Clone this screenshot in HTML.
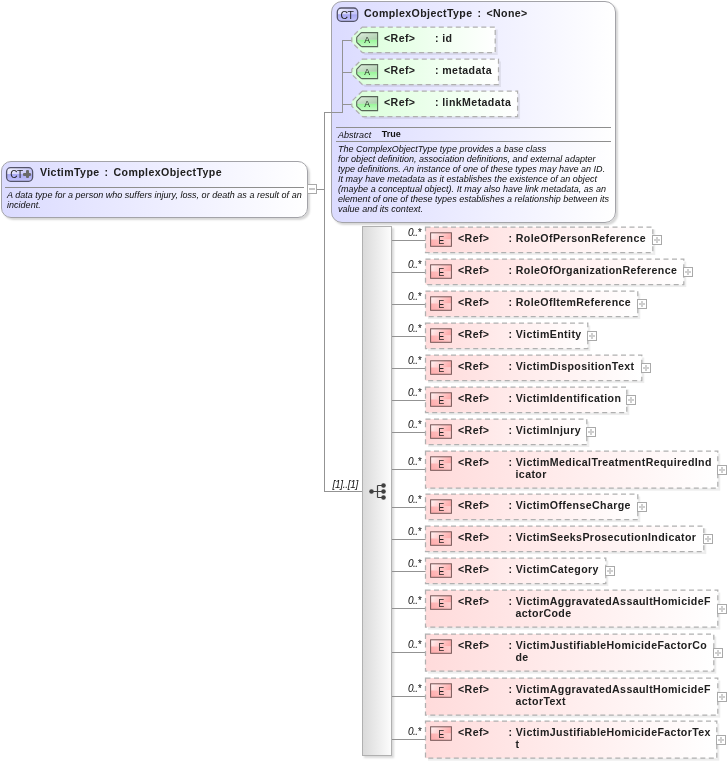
<!DOCTYPE html><html><head><meta charset="utf-8"><title>VictimType</title><style>
html,body{margin:0;padding:0;background:#fff;}
body{width:727px;height:765px;position:relative;overflow:hidden;font-family:"Liberation Sans",Arial,sans-serif;color:#1a1a1a;}
.abs{position:absolute;}
.b{font-weight:bold;font-size:10.6px;letter-spacing:0.4px;color:#202020;white-space:nowrap;line-height:12px;}
.i{font-style:italic;font-size:9px;white-space:nowrap;line-height:10px;letter-spacing:0.02px;color:#0c0c0c;}
.box{position:absolute;border:1px solid #a3a3a8;background:linear-gradient(to right,#dbdbff 0%,#ffffff 100%);box-shadow:2px 2px 2px rgba(0,0,0,0.16);box-sizing:border-box;}
.el{position:absolute;box-sizing:border-box;border:1px dashed #a8a8a8;background:linear-gradient(to right,#ffd6d6 0%,#ffe3e3 50%,#fffafa 100%);box-shadow:2px 2px 1px rgba(0,0,0,0.13);}
.eb{position:absolute;box-sizing:border-box;width:22px;height:14px;border:1px solid #7a5a5a;background:linear-gradient(to bottom,#ffe9e9 0%,#ffd0d0 45%,#f79a9a 55%,#f9b4b4 100%);font-size:11px;line-height:13px;text-align:center;color:#222;}
.plus{position:absolute;box-sizing:border-box;width:10px;height:10px;border:1px solid #a9a9a9;background:#fff;}
.plus:before{content:"";position:absolute;left:1px;top:3px;width:6px;height:2px;background:#cfcfcf;}
.plus:after{content:"";position:absolute;left:3px;top:1px;width:2px;height:6px;background:#cfcfcf;}
.card{position:absolute;font-style:italic;font-size:10px;line-height:10px;letter-spacing:-0.5px;white-space:nowrap;color:#0a0a0a;}
.ln{position:absolute;background:#939393;}
</style></head><body><div id="w" style="position:absolute;left:0;top:0;width:727px;height:765px;will-change:transform;">
<div class="ln" style="left:317px;top:189px;width:8px;height:1px;"></div>
<div class="ln" style="left:324px;top:112px;width:1px;height:380px;"></div>
<div class="ln" style="left:324px;top:491px;width:38px;height:1px;"></div>
<div class="box" style="left:1px;top:161px;width:307px;height:57px;border-radius:10px;"></div>
<svg class="abs" style="left:0;top:0;" width="727" height="765" viewBox="0 0 727 765"><defs><linearGradient id="c1v" x1="0" x2="1" y1="0" y2="0.3"><stop offset="0" stop-color="#f4f4ff"/><stop offset="1" stop-color="#c6c6fa"/></linearGradient><linearGradient id="c2v" x1="0" x2="0" y1="0" y2="1"><stop offset="0" stop-color="#a6a6f2"/><stop offset="1" stop-color="#c4c4fb"/></linearGradient><clipPath id="ccv"><rect x="6.6" y="167.7" width="26" height="13.6" rx="4" ry="4"/></clipPath></defs><g clip-path="url(#ccv)"><rect x="6.6" y="167.7" width="26" height="6.400000000000006" fill="url(#c1v)"/><rect x="6.6" y="174.1" width="26" height="7.199999999999989" fill="url(#c2v)"/></g><rect x="6.6" y="167.7" width="26" height="13.6" rx="4" ry="4" fill="none" stroke="#54546a" stroke-width="1.3"/></svg>
<div class="abs" style="left:10.3px;top:169.1px;font-size:10px;line-height:12px;letter-spacing:-0.4px;color:#222;">CT</div>
<div class="abs" style="left:23px;top:172.5px;width:8px;height:3px;background:#6a6a6a;border-radius:1px;"></div><div class="abs" style="left:25.5px;top:170px;width:3px;height:8px;background:#6a6a6a;border-radius:1px;"></div>
<div class="abs b" style="left:40px;top:166px;">VictimType<span style="margin-left:5px;margin-right:5px;">:</span>ComplexObjectType</div>
<div class="ln" style="left:5px;top:187px;width:299px;height:1px;background:#8e8e8e;"></div>
<div class="abs i" style="left:7px;top:190px;">A data type for a person who suffers injury, loss, or death as a result of an<br>incident.</div>
<div class="abs" style="left:307px;top:184px;width:10px;height:10px;box-sizing:border-box;border:1px solid #a9a9a9;background:#fff;"></div><div class="ln" style="left:309px;top:188px;width:6px;height:2px;background:#c6c6c6;"></div>
<div class="box" style="left:331px;top:1px;width:285px;height:222px;border-radius:11px;"></div>
<svg class="abs" style="left:0;top:0;" width="727" height="765" viewBox="0 0 727 765"><defs><linearGradient id="c1c" x1="0" x2="1" y1="0" y2="0.3"><stop offset="0" stop-color="#f4f4ff"/><stop offset="1" stop-color="#c6c6fa"/></linearGradient><linearGradient id="c2c" x1="0" x2="0" y1="0" y2="1"><stop offset="0" stop-color="#a6a6f2"/><stop offset="1" stop-color="#c4c4fb"/></linearGradient><clipPath id="ccc"><rect x="337.3" y="8.0" width="20.4" height="13.3" rx="4" ry="4"/></clipPath></defs><g clip-path="url(#ccc)"><rect x="337.3" y="8.0" width="20.4" height="6.25" fill="url(#c1c)"/><rect x="337.3" y="14.25" width="20.4" height="7.050000000000001" fill="url(#c2c)"/></g><rect x="337.3" y="8.0" width="20.4" height="13.3" rx="4" ry="4" fill="none" stroke="#54546a" stroke-width="1.3"/></svg>
<div class="abs" style="left:340.4px;top:9.5px;font-size:10.4px;line-height:12px;letter-spacing:-0.3px;color:#222;">CT</div>
<div class="abs b" style="left:364px;top:7px;">ComplexObjectType<span style="margin-left:5px;margin-right:5px;">:</span>&lt;None&gt;</div>
<div class="ln" style="left:342px;top:40px;width:1px;height:73px;"></div>
<div class="ln" style="left:324px;top:112px;width:19px;height:1px;"></div>
<div class="ln" style="left:342px;top:40px;width:11px;height:1px;"></div>
<div class="ln" style="left:342px;top:72px;width:11px;height:1px;"></div>
<div class="ln" style="left:342px;top:104px;width:11px;height:1px;"></div>
<svg class="abs" style="left:0;top:0;" width="727" height="765" viewBox="0 0 727 765"><defs><linearGradient id="ga" x1="0" x2="1" y1="0" y2="0"><stop offset="0" stop-color="#daffda"/><stop offset="1" stop-color="#ffffff"/></linearGradient><linearGradient id="gA1" x1="0" x2="1" y1="0" y2="1"><stop offset="0" stop-color="#e4f2e4"/><stop offset="0.5" stop-color="#c4dcc4"/><stop offset="1" stop-color="#a8cca8"/></linearGradient><linearGradient id="gA2" x1="0" x2="0" y1="0" y2="1"><stop offset="0" stop-color="#98f698"/><stop offset="1" stop-color="#c6fbc6"/></linearGradient></defs>
<path d="M364.8 29.5 L497.7 29.5 L497.7 55.0 L364.8 55.0 L354.3 44.75 L354.3 39.75 Z" fill="#000" opacity="0.07"/>
<path d="M362.3 27 L495.2 27 L495.2 52.5 L362.3 52.5 L351.8 42.3 L351.8 37.2 Z" fill="url(#ga)" stroke="#b0b0b0" stroke-width="1.25" stroke-dasharray="5 3.5"/>
<clipPath id="ca27"><path d="M361.8 32.6 L377.6 32.6 L377.6 46.6 L361.8 46.6 Q361.2 46.6 360.7 46.0 L357.09999999999997 42.65 Q356.7 42.15 356.7 41.55 L356.7 37.95 Q356.7 37.35 357.09999999999997 36.85 L360.7 33.2 Q361.2 32.6 361.8 32.6 Z"/></clipPath>
<g clip-path="url(#ca27)"><rect x="356.7" y="32.6" width="20.900000000000034" height="7.249999999999998" fill="url(#gA1)"/><rect x="356.7" y="39.85" width="20.900000000000034" height="6.850000000000001" fill="url(#gA2)"/></g>
<path d="M361.8 32.6 L377.6 32.6 L377.6 46.6 L361.8 46.6 Q361.2 46.6 360.7 46.0 L357.09999999999997 42.65 Q356.7 42.15 356.7 41.55 L356.7 37.95 Q356.7 37.35 357.09999999999997 36.85 L360.7 33.2 Q361.2 32.6 361.8 32.6 Z" fill="none" stroke="#566456" stroke-width="1.1"/>
<path d="M364.8 61.5 L501.0 61.5 L501.0 87.0 L364.8 87.0 L354.3 76.75 L354.3 71.75 Z" fill="#000" opacity="0.07"/>
<path d="M362.3 59 L498.5 59 L498.5 84.5 L362.3 84.5 L351.8 74.3 L351.8 69.2 Z" fill="url(#ga)" stroke="#b0b0b0" stroke-width="1.25" stroke-dasharray="5 3.5"/>
<clipPath id="ca59"><path d="M361.8 64.6 L377.6 64.6 L377.6 78.6 L361.8 78.6 Q361.2 78.6 360.7 78.0 L357.09999999999997 74.65 Q356.7 74.15 356.7 73.55 L356.7 69.95 Q356.7 69.35 357.09999999999997 68.85 L360.7 65.19999999999999 Q361.2 64.6 361.8 64.6 Z"/></clipPath>
<g clip-path="url(#ca59)"><rect x="356.7" y="64.6" width="20.900000000000034" height="7.250000000000005" fill="url(#gA1)"/><rect x="356.7" y="71.85" width="20.900000000000034" height="6.849999999999994" fill="url(#gA2)"/></g>
<path d="M361.8 64.6 L377.6 64.6 L377.6 78.6 L361.8 78.6 Q361.2 78.6 360.7 78.0 L357.09999999999997 74.65 Q356.7 74.15 356.7 73.55 L356.7 69.95 Q356.7 69.35 357.09999999999997 68.85 L360.7 65.19999999999999 Q361.2 64.6 361.8 64.6 Z" fill="none" stroke="#566456" stroke-width="1.1"/>
<path d="M364.8 93.5 L520.1 93.5 L520.1 119.0 L364.8 119.0 L354.3 108.75 L354.3 103.75 Z" fill="#000" opacity="0.07"/>
<path d="M362.3 91 L517.6 91 L517.6 116.5 L362.3 116.5 L351.8 106.3 L351.8 101.2 Z" fill="url(#ga)" stroke="#b0b0b0" stroke-width="1.25" stroke-dasharray="5 3.5"/>
<clipPath id="ca91"><path d="M361.8 96.6 L377.6 96.6 L377.6 110.6 L361.8 110.6 Q361.2 110.6 360.7 110.0 L357.09999999999997 106.65 Q356.7 106.15 356.7 105.55 L356.7 101.95 Q356.7 101.35 357.09999999999997 100.85 L360.7 97.19999999999999 Q361.2 96.6 361.8 96.6 Z"/></clipPath>
<g clip-path="url(#ca91)"><rect x="356.7" y="96.6" width="20.900000000000034" height="7.250000000000005" fill="url(#gA1)"/><rect x="356.7" y="103.85" width="20.900000000000034" height="6.849999999999994" fill="url(#gA2)"/></g>
<path d="M361.8 96.6 L377.6 96.6 L377.6 110.6 L361.8 110.6 Q361.2 110.6 360.7 110.0 L357.09999999999997 106.65 Q356.7 106.15 356.7 105.55 L356.7 101.95 Q356.7 101.35 357.09999999999997 100.85 L360.7 97.19999999999999 Q361.2 96.6 361.8 96.6 Z" fill="none" stroke="#566456" stroke-width="1.1"/>
</svg>
<div class="abs" style="left:364.3px;top:33.9px;font-size:9.6px;line-height:12px;color:#222;transform:scaleX(0.9);">A</div>
<div class="abs b" style="left:384px;top:32px;">&lt;Ref&gt;</div>
<div class="abs b" style="left:435px;top:32px;">: id</div>
<div class="abs" style="left:364.3px;top:65.9px;font-size:9.6px;line-height:12px;color:#222;transform:scaleX(0.9);">A</div>
<div class="abs b" style="left:384px;top:64px;">&lt;Ref&gt;</div>
<div class="abs b" style="left:435px;top:64px;">: metadata</div>
<div class="abs" style="left:364.3px;top:97.9px;font-size:9.6px;line-height:12px;color:#222;transform:scaleX(0.9);">A</div>
<div class="abs b" style="left:384px;top:96px;">&lt;Ref&gt;</div>
<div class="abs b" style="left:435px;top:96px;">: linkMetadata</div>
<div class="ln" style="left:336px;top:127px;width:275px;height:1px;background:#8e8e8e;"></div>
<div class="ln" style="left:336px;top:141px;width:275px;height:1px;background:#8e8e8e;"></div>
<div class="abs i" style="left:338px;top:130px;">Abstract</div>
<div class="abs" style="left:381.7px;top:128.6px;font-size:9px;font-weight:bold;line-height:10px;color:#111;">True</div>
<div class="abs i" style="left:338px;top:144px;">The ComplexObjectType type provides a base class<br>for object definition, association definitions, and external adapter<br>type definitions. An instance of one of these types may have an ID.<br>It may have metadata as it establishes the existence of an object<br>(maybe a conceptual object). It may also have link metadata, as an<br>element of one of these types establishes a relationship between its<br>value and its context.</div>
<div class="abs" style="left:362px;top:226px;width:30px;height:530px;box-sizing:border-box;border:1px solid #b0b0b0;background:linear-gradient(to right,#dadada 0%,#fcfcfc 100%);box-shadow:2px 2px 2px rgba(0,0,0,0.15);"></div>
<div class="abs card" style="left:332.5px;top:479.5px;letter-spacing:-0.3px;color:#111;">[1]..[1]</div>
<svg class="abs" style="left:368px;top:481px;" width="22" height="22" viewBox="0 0 22 22"><path d="M3.5 10.5 H9.5 M9.5 4.5 V16.5 M9.5 4.5 H15 M9.5 10.5 H15 M9.5 16.5 H15" stroke="#404040" stroke-width="1.2" fill="none"/><circle cx="3.5" cy="10.5" r="2.3" fill="#404040"/><circle cx="15.5" cy="4.5" r="2.3" fill="#404040"/><circle cx="15.5" cy="10.5" r="2.3" fill="#404040"/><circle cx="15.5" cy="16.5" r="2.3" fill="#404040"/></svg>
<div class="ln" style="left:392px;top:240px;width:34px;height:1px;"></div>
<div class="card" style="left:408px;top:228.4px;">0..*</div>
<div class="ln" style="left:392px;top:272px;width:34px;height:1px;"></div>
<div class="card" style="left:408px;top:260.4px;">0..*</div>
<div class="ln" style="left:392px;top:304px;width:34px;height:1px;"></div>
<div class="card" style="left:408px;top:292.4px;">0..*</div>
<div class="ln" style="left:392px;top:336px;width:34px;height:1px;"></div>
<div class="card" style="left:408px;top:324.4px;">0..*</div>
<div class="ln" style="left:392px;top:368px;width:34px;height:1px;"></div>
<div class="card" style="left:408px;top:356.4px;">0..*</div>
<div class="ln" style="left:392px;top:400px;width:34px;height:1px;"></div>
<div class="card" style="left:408px;top:388.4px;">0..*</div>
<div class="ln" style="left:392px;top:432px;width:34px;height:1px;"></div>
<div class="card" style="left:408px;top:420.4px;">0..*</div>
<div class="ln" style="left:392px;top:469px;width:34px;height:1px;"></div>
<div class="card" style="left:408px;top:457.4px;">0..*</div>
<div class="ln" style="left:392px;top:507px;width:34px;height:1px;"></div>
<div class="card" style="left:408px;top:495.4px;">0..*</div>
<div class="ln" style="left:392px;top:539px;width:34px;height:1px;"></div>
<div class="card" style="left:408px;top:527.4px;">0..*</div>
<div class="ln" style="left:392px;top:571px;width:34px;height:1px;"></div>
<div class="card" style="left:408px;top:559.4px;">0..*</div>
<div class="ln" style="left:392px;top:608px;width:34px;height:1px;"></div>
<div class="card" style="left:408px;top:596.4px;">0..*</div>
<div class="ln" style="left:392px;top:652px;width:34px;height:1px;"></div>
<div class="card" style="left:408px;top:640.4px;">0..*</div>
<div class="ln" style="left:392px;top:696px;width:34px;height:1px;"></div>
<div class="card" style="left:408px;top:684.4px;">0..*</div>
<div class="ln" style="left:392px;top:739px;width:34px;height:1px;"></div>
<div class="card" style="left:408px;top:727.4px;">0..*</div>
<svg class="abs" style="left:0;top:0;" width="727" height="765" viewBox="0 0 727 765"><defs><linearGradient id="ge" x1="0" x2="1" y1="0" y2="0"><stop offset="0" stop-color="#ffdbdb"/><stop offset="1" stop-color="#ffffff"/></linearGradient><linearGradient id="gE1" x1="0" x2="1" y1="0" y2="0.25"><stop offset="0" stop-color="#fff4f4"/><stop offset="0.45" stop-color="#ffd6d6"/><stop offset="1" stop-color="#ffaeae"/></linearGradient><linearGradient id="gE2" x1="0" x2="1" y1="0.25" y2="0"><stop offset="0" stop-color="#ffb0b0"/><stop offset="0.5" stop-color="#ffc0c0"/><stop offset="1" stop-color="#ffd4d4"/></linearGradient></defs>
<rect x="428" y="229.5" width="227.29999999999995" height="25.6" fill="#000" opacity="0.07"/>
<rect x="425.5" y="227" width="227.29999999999995" height="25.6" fill="url(#ge)" stroke="#b0b0b0" stroke-width="1.25" stroke-dasharray="5 3.5"/>
<rect x="430.5" y="232.8" width="21" height="6.8" fill="url(#gE1)"/><rect x="430.5" y="239.5" width="21" height="6.8" fill="url(#gE2)"/>
<rect x="430.6" y="232.8" width="20.8" height="13.5" fill="none" stroke="#745656" stroke-width="1"/>
<rect x="428" y="261.5" width="258.29999999999995" height="25.6" fill="#000" opacity="0.07"/>
<rect x="425.5" y="259" width="258.29999999999995" height="25.6" fill="url(#ge)" stroke="#b0b0b0" stroke-width="1.25" stroke-dasharray="5 3.5"/>
<rect x="430.5" y="264.8" width="21" height="6.8" fill="url(#gE1)"/><rect x="430.5" y="271.5" width="21" height="6.8" fill="url(#gE2)"/>
<rect x="430.6" y="264.8" width="20.8" height="13.5" fill="none" stroke="#745656" stroke-width="1"/>
<rect x="428" y="293.5" width="212.29999999999995" height="25.6" fill="#000" opacity="0.07"/>
<rect x="425.5" y="291" width="212.29999999999995" height="25.6" fill="url(#ge)" stroke="#b0b0b0" stroke-width="1.25" stroke-dasharray="5 3.5"/>
<rect x="430.5" y="296.8" width="21" height="6.8" fill="url(#gE1)"/><rect x="430.5" y="303.5" width="21" height="6.8" fill="url(#gE2)"/>
<rect x="430.6" y="296.8" width="20.8" height="13.5" fill="none" stroke="#745656" stroke-width="1"/>
<rect x="428" y="325.5" width="162.29999999999995" height="25.6" fill="#000" opacity="0.07"/>
<rect x="425.5" y="323" width="162.29999999999995" height="25.6" fill="url(#ge)" stroke="#b0b0b0" stroke-width="1.25" stroke-dasharray="5 3.5"/>
<rect x="430.5" y="328.8" width="21" height="6.8" fill="url(#gE1)"/><rect x="430.5" y="335.5" width="21" height="6.8" fill="url(#gE2)"/>
<rect x="430.6" y="328.8" width="20.8" height="13.5" fill="none" stroke="#745656" stroke-width="1"/>
<rect x="428" y="357.5" width="216.29999999999995" height="25.6" fill="#000" opacity="0.07"/>
<rect x="425.5" y="355" width="216.29999999999995" height="25.6" fill="url(#ge)" stroke="#b0b0b0" stroke-width="1.25" stroke-dasharray="5 3.5"/>
<rect x="430.5" y="360.8" width="21" height="6.8" fill="url(#gE1)"/><rect x="430.5" y="367.5" width="21" height="6.8" fill="url(#gE2)"/>
<rect x="430.6" y="360.8" width="20.8" height="13.5" fill="none" stroke="#745656" stroke-width="1"/>
<rect x="428" y="389.5" width="201.29999999999995" height="25.6" fill="#000" opacity="0.07"/>
<rect x="425.5" y="387" width="201.29999999999995" height="25.6" fill="url(#ge)" stroke="#b0b0b0" stroke-width="1.25" stroke-dasharray="5 3.5"/>
<rect x="430.5" y="392.8" width="21" height="6.8" fill="url(#gE1)"/><rect x="430.5" y="399.5" width="21" height="6.8" fill="url(#gE2)"/>
<rect x="430.6" y="392.8" width="20.8" height="13.5" fill="none" stroke="#745656" stroke-width="1"/>
<rect x="428" y="421.5" width="161.29999999999995" height="25.6" fill="#000" opacity="0.07"/>
<rect x="425.5" y="419" width="161.29999999999995" height="25.6" fill="url(#ge)" stroke="#b0b0b0" stroke-width="1.25" stroke-dasharray="5 3.5"/>
<rect x="430.5" y="424.8" width="21" height="6.8" fill="url(#gE1)"/><rect x="430.5" y="431.5" width="21" height="6.8" fill="url(#gE2)"/>
<rect x="430.6" y="424.8" width="20.8" height="13.5" fill="none" stroke="#745656" stroke-width="1"/>
<rect x="428" y="453.5" width="292.29999999999995" height="37.2" fill="#000" opacity="0.07"/>
<rect x="425.5" y="451" width="292.29999999999995" height="37.2" fill="url(#ge)" stroke="#b0b0b0" stroke-width="1.25" stroke-dasharray="5 3.5"/>
<rect x="430.5" y="456.8" width="21" height="6.8" fill="url(#gE1)"/><rect x="430.5" y="463.5" width="21" height="6.8" fill="url(#gE2)"/>
<rect x="430.6" y="456.8" width="20.8" height="13.5" fill="none" stroke="#745656" stroke-width="1"/>
<rect x="428" y="496.5" width="212.29999999999995" height="25.6" fill="#000" opacity="0.07"/>
<rect x="425.5" y="494" width="212.29999999999995" height="25.6" fill="url(#ge)" stroke="#b0b0b0" stroke-width="1.25" stroke-dasharray="5 3.5"/>
<rect x="430.5" y="499.8" width="21" height="6.8" fill="url(#gE1)"/><rect x="430.5" y="506.5" width="21" height="6.8" fill="url(#gE2)"/>
<rect x="430.6" y="499.8" width="20.8" height="13.5" fill="none" stroke="#745656" stroke-width="1"/>
<rect x="428" y="528.5" width="278.29999999999995" height="25.6" fill="#000" opacity="0.07"/>
<rect x="425.5" y="526" width="278.29999999999995" height="25.6" fill="url(#ge)" stroke="#b0b0b0" stroke-width="1.25" stroke-dasharray="5 3.5"/>
<rect x="430.5" y="531.8" width="21" height="6.8" fill="url(#gE1)"/><rect x="430.5" y="538.5" width="21" height="6.8" fill="url(#gE2)"/>
<rect x="430.6" y="531.8" width="20.8" height="13.5" fill="none" stroke="#745656" stroke-width="1"/>
<rect x="428" y="560.5" width="180.29999999999995" height="25.6" fill="#000" opacity="0.07"/>
<rect x="425.5" y="558" width="180.29999999999995" height="25.6" fill="url(#ge)" stroke="#b0b0b0" stroke-width="1.25" stroke-dasharray="5 3.5"/>
<rect x="430.5" y="563.8" width="21" height="6.8" fill="url(#gE1)"/><rect x="430.5" y="570.5" width="21" height="6.8" fill="url(#gE2)"/>
<rect x="430.6" y="563.8" width="20.8" height="13.5" fill="none" stroke="#745656" stroke-width="1"/>
<rect x="428" y="592.5" width="292.29999999999995" height="37.2" fill="#000" opacity="0.07"/>
<rect x="425.5" y="590" width="292.29999999999995" height="37.2" fill="url(#ge)" stroke="#b0b0b0" stroke-width="1.25" stroke-dasharray="5 3.5"/>
<rect x="430.5" y="595.8" width="21" height="6.8" fill="url(#gE1)"/><rect x="430.5" y="602.5" width="21" height="6.8" fill="url(#gE2)"/>
<rect x="430.6" y="595.8" width="20.8" height="13.5" fill="none" stroke="#745656" stroke-width="1"/>
<rect x="428" y="636.5" width="288.29999999999995" height="37.2" fill="#000" opacity="0.07"/>
<rect x="425.5" y="634" width="288.29999999999995" height="37.2" fill="url(#ge)" stroke="#b0b0b0" stroke-width="1.25" stroke-dasharray="5 3.5"/>
<rect x="430.5" y="639.8" width="21" height="6.8" fill="url(#gE1)"/><rect x="430.5" y="646.5" width="21" height="6.8" fill="url(#gE2)"/>
<rect x="430.6" y="639.8" width="20.8" height="13.5" fill="none" stroke="#745656" stroke-width="1"/>
<rect x="428" y="680.5" width="292.29999999999995" height="37.2" fill="#000" opacity="0.07"/>
<rect x="425.5" y="678" width="292.29999999999995" height="37.2" fill="url(#ge)" stroke="#b0b0b0" stroke-width="1.25" stroke-dasharray="5 3.5"/>
<rect x="430.5" y="683.8" width="21" height="6.8" fill="url(#gE1)"/><rect x="430.5" y="690.5" width="21" height="6.8" fill="url(#gE2)"/>
<rect x="430.6" y="683.8" width="20.8" height="13.5" fill="none" stroke="#745656" stroke-width="1"/>
<rect x="428" y="723.5" width="291.29999999999995" height="37.2" fill="#000" opacity="0.07"/>
<rect x="425.5" y="721" width="291.29999999999995" height="37.2" fill="url(#ge)" stroke="#b0b0b0" stroke-width="1.25" stroke-dasharray="5 3.5"/>
<rect x="430.5" y="726.8" width="21" height="6.8" fill="url(#gE1)"/><rect x="430.5" y="733.5" width="21" height="6.8" fill="url(#gE2)"/>
<rect x="430.6" y="726.8" width="20.8" height="13.5" fill="none" stroke="#745656" stroke-width="1"/>
</svg>
<div class="abs" style="left:437.9px;top:233.7px;font-size:10px;line-height:13px;color:#222;transform:scaleX(0.86);">E</div>
<div class="abs b" style="left:458px;top:232px;">&lt;Ref&gt;</div>
<div class="abs b" style="left:508.5px;top:232px;">: RoleOfPersonReference</div>
<div class="plus" style="left:652px;top:235px;"></div>
<div class="abs" style="left:437.9px;top:265.7px;font-size:10px;line-height:13px;color:#222;transform:scaleX(0.86);">E</div>
<div class="abs b" style="left:458px;top:264px;">&lt;Ref&gt;</div>
<div class="abs b" style="left:508.5px;top:264px;">: RoleOfOrganizationReference</div>
<div class="plus" style="left:683px;top:267px;"></div>
<div class="abs" style="left:437.9px;top:297.7px;font-size:10px;line-height:13px;color:#222;transform:scaleX(0.86);">E</div>
<div class="abs b" style="left:458px;top:296px;">&lt;Ref&gt;</div>
<div class="abs b" style="left:508.5px;top:296px;">: RoleOfItemReference</div>
<div class="plus" style="left:637px;top:299px;"></div>
<div class="abs" style="left:437.9px;top:329.7px;font-size:10px;line-height:13px;color:#222;transform:scaleX(0.86);">E</div>
<div class="abs b" style="left:458px;top:328px;">&lt;Ref&gt;</div>
<div class="abs b" style="left:508.5px;top:328px;">: VictimEntity</div>
<div class="plus" style="left:587px;top:331px;"></div>
<div class="abs" style="left:437.9px;top:361.7px;font-size:10px;line-height:13px;color:#222;transform:scaleX(0.86);">E</div>
<div class="abs b" style="left:458px;top:360px;">&lt;Ref&gt;</div>
<div class="abs b" style="left:508.5px;top:360px;">: VictimDispositionText</div>
<div class="plus" style="left:641px;top:363px;"></div>
<div class="abs" style="left:437.9px;top:393.7px;font-size:10px;line-height:13px;color:#222;transform:scaleX(0.86);">E</div>
<div class="abs b" style="left:458px;top:392px;">&lt;Ref&gt;</div>
<div class="abs b" style="left:508.5px;top:392px;">: VictimIdentification</div>
<div class="plus" style="left:626px;top:395px;"></div>
<div class="abs" style="left:437.9px;top:425.7px;font-size:10px;line-height:13px;color:#222;transform:scaleX(0.86);">E</div>
<div class="abs b" style="left:458px;top:424px;">&lt;Ref&gt;</div>
<div class="abs b" style="left:508.5px;top:424px;">: VictimInjury</div>
<div class="plus" style="left:586px;top:427px;"></div>
<div class="abs" style="left:437.9px;top:457.7px;font-size:10px;line-height:13px;color:#222;transform:scaleX(0.86);">E</div>
<div class="abs b" style="left:458px;top:456px;">&lt;Ref&gt;</div>
<div class="abs b" style="left:508.5px;top:456px;">: VictimMedicalTreatmentRequiredInd<br><span style="margin-left:7px">icator</span></div>
<div class="plus" style="left:717px;top:465px;"></div>
<div class="abs" style="left:437.9px;top:500.7px;font-size:10px;line-height:13px;color:#222;transform:scaleX(0.86);">E</div>
<div class="abs b" style="left:458px;top:499px;">&lt;Ref&gt;</div>
<div class="abs b" style="left:508.5px;top:499px;">: VictimOffenseCharge</div>
<div class="plus" style="left:637px;top:502px;"></div>
<div class="abs" style="left:437.9px;top:532.7px;font-size:10px;line-height:13px;color:#222;transform:scaleX(0.86);">E</div>
<div class="abs b" style="left:458px;top:531px;">&lt;Ref&gt;</div>
<div class="abs b" style="left:508.5px;top:531px;">: VictimSeeksProsecutionIndicator</div>
<div class="plus" style="left:703px;top:534px;"></div>
<div class="abs" style="left:437.9px;top:564.7px;font-size:10px;line-height:13px;color:#222;transform:scaleX(0.86);">E</div>
<div class="abs b" style="left:458px;top:563px;">&lt;Ref&gt;</div>
<div class="abs b" style="left:508.5px;top:563px;">: VictimCategory</div>
<div class="plus" style="left:605px;top:566px;"></div>
<div class="abs" style="left:437.9px;top:596.7px;font-size:10px;line-height:13px;color:#222;transform:scaleX(0.86);">E</div>
<div class="abs b" style="left:458px;top:595px;">&lt;Ref&gt;</div>
<div class="abs b" style="left:508.5px;top:595px;">: VictimAggravatedAssaultHomicideF<br><span style="margin-left:7px">actorCode</span></div>
<div class="plus" style="left:717px;top:604px;"></div>
<div class="abs" style="left:437.9px;top:640.7px;font-size:10px;line-height:13px;color:#222;transform:scaleX(0.86);">E</div>
<div class="abs b" style="left:458px;top:639px;">&lt;Ref&gt;</div>
<div class="abs b" style="left:508.5px;top:639px;">: VictimJustifiableHomicideFactorCo<br><span style="margin-left:7px">de</span></div>
<div class="plus" style="left:713px;top:648px;"></div>
<div class="abs" style="left:437.9px;top:684.7px;font-size:10px;line-height:13px;color:#222;transform:scaleX(0.86);">E</div>
<div class="abs b" style="left:458px;top:683px;">&lt;Ref&gt;</div>
<div class="abs b" style="left:508.5px;top:683px;">: VictimAggravatedAssaultHomicideF<br><span style="margin-left:7px">actorText</span></div>
<div class="plus" style="left:717px;top:692px;"></div>
<div class="abs" style="left:437.9px;top:727.7px;font-size:10px;line-height:13px;color:#222;transform:scaleX(0.86);">E</div>
<div class="abs b" style="left:458px;top:726px;">&lt;Ref&gt;</div>
<div class="abs b" style="left:508.5px;top:726px;">: VictimJustifiableHomicideFactorTex<br><span style="margin-left:7px">t</span></div>
<div class="plus" style="left:716px;top:735px;"></div>
</div></body></html>
